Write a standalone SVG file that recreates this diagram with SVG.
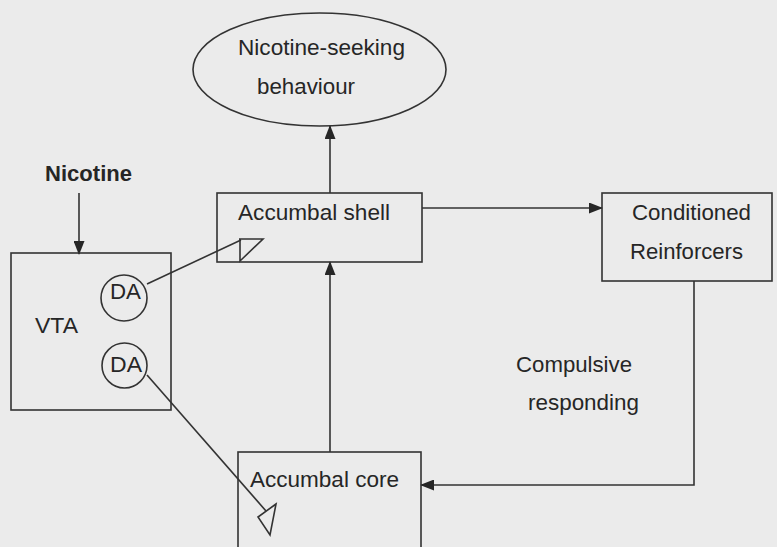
<svg xmlns="http://www.w3.org/2000/svg" width="777" height="547" viewBox="0 0 777 547">
<defs>
<style>
.bg{fill:#ebebeb}
.box{fill:none;stroke:#333;stroke-width:1.6}
.ln{fill:none;stroke:#333;stroke-width:1.6}
.syn{fill:none;stroke:#333;stroke-width:1.6;stroke-linejoin:miter}
text{font-family:"Liberation Sans",Arial,sans-serif;font-size:22px;fill:#262626}
.b{font-weight:bold}
</style>
<marker id="ah" markerWidth="14" markerHeight="11" refX="13" refY="5.5" orient="auto" markerUnits="userSpaceOnUse">
<path d="M0,0 L14,5.5 L0,11 Z" fill="#262626"/>
</marker>
</defs>
<rect class="bg" x="0" y="0" width="777" height="547"/>

<g id="connectors">
<line class="ln" x1="79" y1="193" x2="79" y2="254" marker-end="url(#ah)"/>
<line class="ln" x1="330" y1="452" x2="330" y2="262" marker-end="url(#ah)"/>
<line class="ln" x1="330" y1="193" x2="330" y2="126" marker-end="url(#ah)"/>
<line class="ln" x1="422" y1="208" x2="602" y2="208" marker-end="url(#ah)"/>
<path class="ln" d="M694,281 V485 H421" marker-end="url(#ah)"/>
<line class="ln" x1="147" y1="284" x2="241" y2="240"/>
<polygon class="syn" points="239,239 263,239 240,261 240,239"/>
<line class="ln" x1="147" y1="375" x2="266" y2="511"/>
<polygon class="syn" points="276,504 258,517 270,535"/>
</g>

<g id="nicotine-seeking">
<ellipse class="box" cx="319.5" cy="69.5" rx="126.5" ry="56.5"/>
<text x="238" y="55" textLength="167" lengthAdjust="spacingAndGlyphs">Nicotine-seeking</text>
<text x="257" y="94" textLength="98" lengthAdjust="spacingAndGlyphs">behaviour</text>
</g>

<g id="nicotine">
<text class="b" x="45" y="181" textLength="87" lengthAdjust="spacingAndGlyphs">Nicotine</text>
</g>

<g id="accumbal-shell">
<rect class="box" x="217" y="193" width="205" height="69"/>
<text x="238" y="220" textLength="152" lengthAdjust="spacingAndGlyphs">Accumbal shell</text>
</g>

<g id="vta">
<rect class="box" x="11" y="253" width="160" height="157"/>
<text x="35" y="333" textLength="43" lengthAdjust="spacingAndGlyphs">VTA</text>
</g>

<g id="da1">
<circle class="box" cx="124" cy="298" r="23"/>
<text x="110" y="299" textLength="31" lengthAdjust="spacingAndGlyphs">DA</text>
</g>

<g id="da2">
<circle class="box" cx="124.5" cy="365.5" r="22.5"/>
<text x="110" y="372" textLength="32" lengthAdjust="spacingAndGlyphs">DA</text>
</g>

<g id="conditioned-reinforcers">
<rect class="box" x="602" y="193" width="170" height="88"/>
<text x="632" y="220" textLength="119" lengthAdjust="spacingAndGlyphs">Conditioned</text>
<text x="630" y="259" textLength="113" lengthAdjust="spacingAndGlyphs">Reinforcers</text>
</g>

<g id="compulsive-label">
<text x="516" y="372" textLength="116" lengthAdjust="spacingAndGlyphs">Compulsive</text>
<text x="528" y="410" textLength="111" lengthAdjust="spacingAndGlyphs">responding</text>
</g>

<g id="accumbal-core">
<rect class="box" x="238" y="452" width="183" height="120"/>
<text x="250" y="487" textLength="149" lengthAdjust="spacingAndGlyphs">Accumbal core</text>
</g>
</svg>
